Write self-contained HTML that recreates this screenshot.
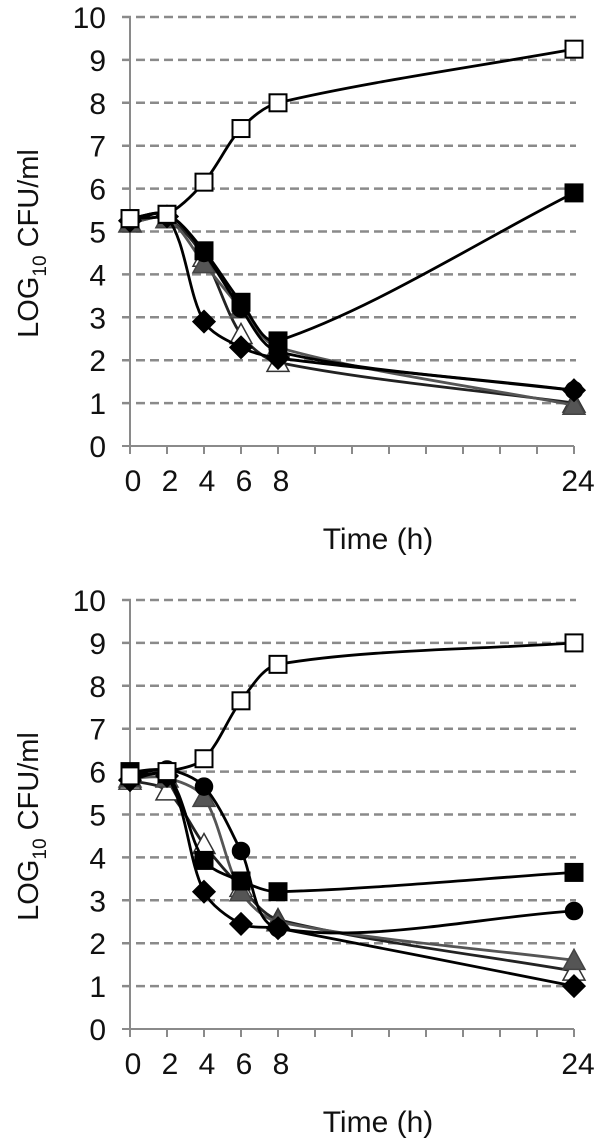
<!DOCTYPE html>
<html><head><meta charset="utf-8">
<style>
html,body{margin:0;padding:0;background:#fff;}
svg{display:block;font-family:"Liberation Sans",sans-serif;}
</style></head>
<body>
<svg id="fig" width="600" height="1139" viewBox="0 0 600 1139" xmlns="http://www.w3.org/2000/svg"></svg>
<script>
const times = [0, 2, 4, 6, 8, 24];
const yTicks = [0,1,2,3,4,5,6,7,8,9,10];
const xTickLabels = ["0","2","4","6","8","24"];
// Panel A values
const aOpenSquare = [5.3, 5.4, 6.15, 7.4, 8.0, 9.25];
const aFilledSquare = [5.3, 5.4, 4.55, 3.35, 2.45, 5.9];
const aCircle = [5.3, 5.4, 4.5, 3.2, 2.2, 1.3];
const aGreyTriangle = [5.2, 5.3, 4.25, 3.2, 2.3, 0.95];
const aOpenTriangle = [5.2, 5.3, 4.4, 2.6, 1.95, 1.0];
const aDiamond = [5.25, 5.35, 2.9, 2.3, 2.05, 1.3];
// Panel B values
const bOpenSquare = [5.9, 6.0, 6.3, 7.65, 8.5, 9.0];
const bFilledSquare = [6.0, 5.95, 3.93, 3.45, 3.2, 3.65];
const bCircle = [5.9, 6.05, 5.65, 4.15, 2.35, 2.75];
const bGreyTriangle = [5.85, 5.85, 5.4, 3.2, 2.5, 1.6];
const bOpenTriangle = [5.8, 5.55, 4.3, 3.3, 2.55, 1.35];
const bDiamond = [5.8, 5.9, 3.2, 2.45, 2.35, 1.0];

const NS = "http://www.w3.org/2000/svg";
const svg = document.getElementById('fig');
function mk(tag, attrs, parent){
  const e = document.createElementNS(NS, tag);
  for (const k in attrs) e.setAttribute(k, attrs[k]);
  (parent||svg).appendChild(e);
  return e;
}

function panel(offY, name, seriesList){
  const g = mk('g', {});
  
  
  const x0 = 130, pxH = 18.5;
  const y0 = 446 + offY, pxU = 42.9;
  const X = t => x0 + t * pxH;
  const Y = v => y0 - v * pxU;
  yTicks.forEach(v => {
    if (v > 0) {
      const l = mk('line', {x1:122, x2:X(24)+2, y1:Y(v), y2:Y(v), stroke:'#8a8a8a', 'stroke-width':2.5, 'stroke-dasharray':'9 5'}, g);
      
      
    } else {
      const l = mk('line', {x1:122, x2:X(24), y1:Y(0), y2:Y(0), stroke:'#8a8a8a', 'stroke-width':2}, g);
      
      
    }
    const tl = mk('text', {x:106, y:Y(v)+11, 'text-anchor':'end', 'font-size':30, fill:'#111'}, g);
    tl.textContent = String(v);
    
    
  });
  const ya = mk('line', {x1:x0, x2:x0, y1:Y(10), y2:Y(0)+8, stroke:'#8a8a8a', 'stroke-width':2}, g);
  
  
  for (let t = 0; t <= 24; t += 2) {
    const tk = mk('line', {x1:X(t), x2:X(t), y1:Y(0), y2:Y(0)+8, stroke:'#8a8a8a', 'stroke-width':2}, g);
    
    
  }
  times.forEach((t, i) => {
    const tl = mk('text', {x:X(t)+(t===24?4:3), y:Y(0)+45, 'text-anchor':'middle', 'font-size':30, fill:'#111'}, g);
    tl.textContent = xTickLabels[i];
    
    
  });
  const xt = mk('text', {x:378, y:Y(0)+103, 'text-anchor':'middle', 'font-size':30, fill:'#111'}, g);
  xt.textContent = 'Time (h)';
  
  
  const yt = mk('text', {x:0, y:0, 'text-anchor':'middle', 'font-size':29, fill:'#111', transform:`translate(38,${Y(5)+12}) rotate(-90)`}, g);
  
  
  yt.innerHTML = 'LOG<tspan font-size="19" dy="8">10</tspan><tspan dy="-8"> CFU/ml</tspan>';

  seriesList.forEach(s => {
    const pts = times.map((t, i) => [X(t), Y(s.vals[i])]);
    const tan = pts.map((p, i) => {
      const a = pts[i-1] || p, b = pts[i+1] || p;
      const dx = b[0]-a[0], dy = b[1]-a[1], L = Math.hypot(dx, dy) || 1;
      return [dx/L, dy/L];
    });
    let d = `M${pts[0][0]},${pts[0][1]}`;
    for (let i = 0; i < pts.length - 1; i++) {
      const p1 = pts[i], p2 = pts[i+1];
      const L = Math.hypot(p2[0]-p1[0], p2[1]-p1[1]) * 0.3;
      const c1 = [p1[0] + tan[i][0]*L, p1[1] + tan[i][1]*L];
      const c2 = [p2[0] - tan[i+1][0]*L, p2[1] - tan[i+1][1]*L];
      d += ` C${c1[0]},${c1[1]} ${c2[0]},${c2[1]} ${p2[0]},${p2[1]}`;
    }
    const sg = mk('g', {}, g);
    
    
    const path = mk('path', {d:d, fill:'none', stroke:s.line, 'stroke-width':2.8}, sg);
    
    
    pts.forEach(p => {
      let m;
      const [x, y] = p;
      if (s.shape === 'square') {
        m = mk('rect', {x:x-8.5, y:y-8.5, width:17, height:17, fill:s.fill, stroke:'#000', 'stroke-width':2}, sg);
      } else if (s.shape === 'circle') {
        m = mk('circle', {cx:x, cy:y, r:8.5, fill:s.fill, stroke:'#000', 'stroke-width':1.5}, sg);
      } else if (s.shape === 'diamond') {
        m = mk('polygon', {points:`${x},${y-11} ${x+11},${y} ${x},${y+11} ${x-11},${y}`, fill:s.fill, stroke:'#000', 'stroke-width':1.5}, sg);
      } else {
        m = mk('polygon', {points:`${x},${y-11} ${x+11},${y+9} ${x-11},${y+9}`, fill:s.fill, stroke:s.stroke, 'stroke-width':1.5}, sg);
      }
      
      
    });
  });
}

panel(0, 'panel-a', [
  {name:'open-triangle-series', vals:aOpenTriangle, shape:'triangle', fill:'#fff', stroke:'#333', line:'#222'},
  {name:'grey-triangle-series', vals:aGreyTriangle, shape:'triangle', fill:'#555', stroke:'#444', line:'#555'},
  {name:'circle-series', vals:aCircle, shape:'circle', fill:'#000', line:'#000'},
  {name:'diamond-series', vals:aDiamond, shape:'diamond', fill:'#000', line:'#000'},
  {name:'filled-square-series', vals:aFilledSquare, shape:'square', fill:'#000', line:'#000'},
  {name:'open-square-series', vals:aOpenSquare, shape:'square', fill:'#fff', line:'#000'}
]);
panel(583, 'panel-b', [
  {name:'open-triangle-series', vals:bOpenTriangle, shape:'triangle', fill:'#fff', stroke:'#333', line:'#222'},
  {name:'grey-triangle-series', vals:bGreyTriangle, shape:'triangle', fill:'#555', stroke:'#444', line:'#555'},
  {name:'circle-series', vals:bCircle, shape:'circle', fill:'#000', line:'#000'},
  {name:'diamond-series', vals:bDiamond, shape:'diamond', fill:'#000', line:'#000'},
  {name:'filled-square-series', vals:bFilledSquare, shape:'square', fill:'#000', line:'#000'},
  {name:'open-square-series', vals:bOpenSquare, shape:'square', fill:'#fff', line:'#000'}
]);
</script>
</body></html>
